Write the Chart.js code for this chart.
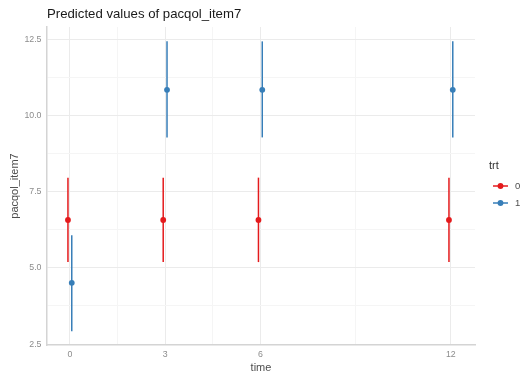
<!DOCTYPE html>
<html>
<head>
<meta charset="utf-8">
<script src="https://cdn.jsdelivr.net/npm/chart.js@4/dist/chart.umd.min.js"></script>
<style>
  html, body { margin: 0; padding: 0; background: #ffffff; }
  #wrap { width: 524px; height: 379px; }
</style>
</head>
<body>
<div id="wrap"><canvas id="c" width="524" height="379"></canvas></div>
<script>
// Predicted values of pacqol_item7 by time and treatment group
const times = [0, 3, 6, 12];
const groups = ['0', '1'];
const groupColors = ['#E41A1C', '#377EB8'];

const predicted0 = [6.57, 6.57, 6.57, 6.57];
const lower0     = [5.19, 5.19, 5.19, 5.19];
const upper0     = [7.96, 7.96, 7.96, 7.96];

const predicted1 = [4.51, 10.84, 10.84, 10.84];
const lower1     = [2.92, 9.28, 9.28, 9.28];
const upper1     = [6.07, 12.43, 12.43, 12.43];

const xMajorTicks = [0, 3, 6, 12];
const xMinorTicks = [1.5, 4.5, 9];
const yMajorTicks = [2.5, 5.0, 7.5, 10.0, 12.5];
const yMinorTicks = [3.75, 6.25, 8.75, 11.25];

const dodge = [-0.06, 0.06];
const series = [
  { pred: predicted0, lo: lower0, hi: upper0 },
  { pred: predicted1, lo: lower1, hi: upper1 }
];

const datasets = [];
series.forEach((s, g) => {
  times.forEach((t, i) => {
    datasets.push({
      type: 'scatter',
      data: [{ x: t + dodge[g], y: s.lo[i] }, { x: t + dodge[g], y: s.hi[i] }],
      showLine: true,
      borderColor: groupColors[g],
      borderWidth: 1.5,
      pointRadius: 0,
      pointHoverRadius: 0,
      order: 2
    });
  });
});
series.forEach((s, g) => {
  datasets.push({
    type: 'scatter',
    label: groups[g],
    data: times.map((t, i) => ({ x: t + dodge[g], y: s.pred[i] })),
    showLine: false,
    backgroundColor: groupColors[g],
    borderColor: groupColors[g],
    pointRadius: 2.9,
    pointBorderWidth: 0,
    order: 1
  });
});

const isIn = (arr, v) => arr.some(a => Math.abs(a - v) < 1e-6);

// Legend drawn at the right side: title "trt" plus line-and-dot keys
const sideLegend = {
  id: 'sideLegend',
  afterDraw(chart) {
    const ctx = chart.ctx;
    ctx.save();
    ctx.textBaseline = 'middle';
    ctx.textAlign = 'left';
    ctx.fillStyle = '#333333';
    ctx.font = '11px "Liberation Sans", Arial, sans-serif';
    ctx.fillText('trt', 489, 166);
    groups.forEach((g, i) => {
      const y = 186 + i * 17;
      ctx.strokeStyle = groupColors[i];
      ctx.lineWidth = 1.5;
      ctx.beginPath();
      ctx.moveTo(493, y);
      ctx.lineTo(508, y);
      ctx.stroke();
      ctx.fillStyle = groupColors[i];
      ctx.beginPath();
      ctx.arc(500.5, y, 2.9, 0, Math.PI * 2);
      ctx.fill();
      ctx.fillStyle = '#4d4d4d';
      ctx.font = '9.5px "Liberation Sans", Arial, sans-serif';
      ctx.fillText(g, 515, y);
    });
    ctx.restore();
  }
};

new Chart(document.getElementById('c'), {
  type: 'scatter',
  data: { datasets },
  plugins: [sideLegend],
  options: {
    responsive: false,
    animation: false,
    devicePixelRatio: 1,
    layout: { padding: { left: 0, right: 49, top: 0, bottom: 0 } },
    plugins: {
      legend: { display: false },
      tooltip: { enabled: false },
      title: {
        display: true,
        text: 'Predicted values of pacqol_item7',
        align: 'start',
        fullSize: false,
        color: '#1a1a1a',
        font: { family: '"Liberation Sans", Arial, sans-serif', size: 13.2, weight: 'normal' },
        padding: { top: 6, bottom: 5.2 }
      }
    },
    scales: {
      x: {
        type: 'linear',
        min: -0.72,
        max: 12.76,
        afterFit(scale) { scale.height = 34; },
        afterBuildTicks(scale) {
          scale.ticks = [...xMajorTicks, ...xMinorTicks].sort((a, b) => a - b).map(v => ({ value: v }));
        },
        ticks: {
          autoSkip: false,
          maxRotation: 0,
          padding: 4,
          color: '#8c8c8c',
          font: { family: '"Liberation Sans", Arial, sans-serif', size: 8.8 },
          callback: (v) => isIn(xMajorTicks, v) ? String(v) : ''
        },
        grid: {
          drawTicks: false,
          lineWidth: 1,
          color: (c) => (c.tick && isIn(xMajorTicks, c.tick.value)) ? '#ebebeb' : '#f5f5f5'
        },
        border: { display: true, color: '#d4d4d4', width: 1.5 },
        title: {
          display: true,
          text: 'time',
          color: '#4d4d4d',
          font: { family: '"Liberation Sans", Arial, sans-serif', size: 11 },
          padding: { top: 0, bottom: 4.4 }
        }
      },
      y: {
        type: 'linear',
        min: 2.47,
        max: 12.9,
        afterFit(scale) { scale.width = 47; },
        afterBuildTicks(scale) {
          scale.ticks = [...yMajorTicks, ...yMinorTicks].sort((a, b) => a - b).map(v => ({ value: v }));
        },
        ticks: {
          autoSkip: false,
          padding: 5.5,
          color: '#8c8c8c',
          font: { family: '"Liberation Sans", Arial, sans-serif', size: 8.8 },
          callback: (v) => isIn(yMajorTicks, v) ? v.toFixed(1) : ''
        },
        grid: {
          drawTicks: false,
          lineWidth: 1,
          color: (c) => (c.tick && isIn(yMajorTicks, c.tick.value)) ? '#ebebeb' : '#f5f5f5'
        },
        border: { display: true, color: '#d4d4d4', width: 1.5 },
        title: {
          display: true,
          text: 'pacqol_item7',
          color: '#4d4d4d',
          font: { family: '"Liberation Sans", Arial, sans-serif', size: 11 },
          padding: { top: 8.4, bottom: 0 }
        }
      }
    }
  }
});
</script>
</body>
</html>
